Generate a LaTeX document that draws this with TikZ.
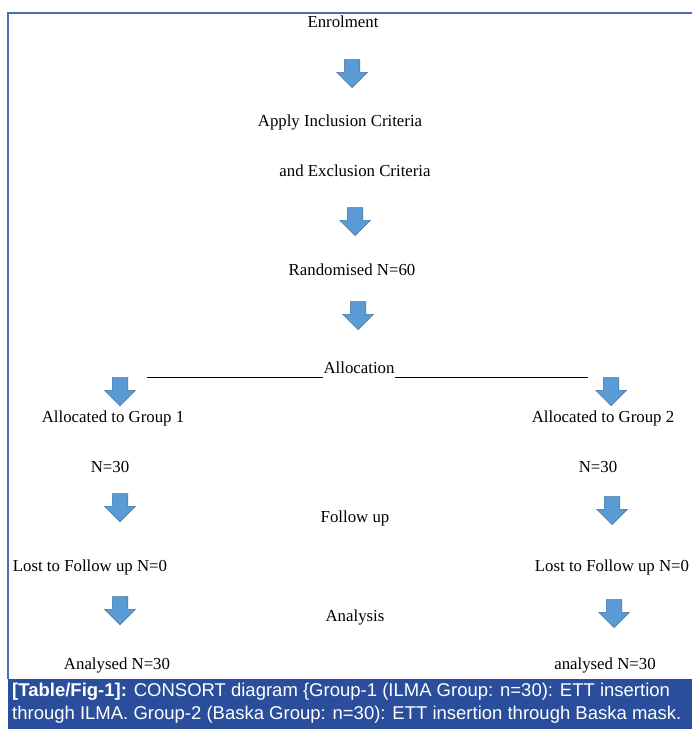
\documentclass[tikz,border=0pt]{standalone}
\usepackage{fontspec}
\setmainfont{Liberation Serif}
\newfontfamily\capfont{Liberation Sans}
\usetikzlibrary{shapes.arrows}
\definecolor{arrowfill}{RGB}{91,155,213}
\definecolor{arrowline}{RGB}{65,113,157}
\definecolor{framecol}{RGB}{72,108,182}
\definecolor{capband}{RGB}{42,78,155}

\begin{document}
\begin{tikzpicture}[x = 1bp, y = -1bp,
                    txt/.style = {inner sep=0pt, font=\fontsize{16.8bp}{20bp}\selectfont},
                    downarrow/.style = {single arrow, rotate=-90, anchor=tip,
                        fill=arrowfill, draw=arrowline, line width=0.5bp,
                        inner xsep=0pt, inner ysep=7.5bp, minimum height=28bp,
                        single arrow head extend=7.5bp}]
\useasboundingbox (0,0) rectangle (692,729);

% frame and caption band
\draw [framecol, line width=2bp] (8,679) -- (8,13) -- (692,13);
\fill [capband] (8,679) rectangle (692,729);

% centre column
\node[txt] (enrol) at (343,22) {Enrolment};
\node[downarrow] (arr1) at (352,88) {};
\node[txt] (incl) at (340,122) {Apply Inclusion Criteria};
\node[txt] (excl) at (355,171) {and Exclusion Criteria};
\node[downarrow] (arr2) at (355,236) {};
\node[txt] (rand) at (352,270) {Randomised N=60};
\node[downarrow] (arr3) at (358,330) {};

% allocation line
\node[txt] (alloc) at (359,368) {Allocation};
\coordinate (ulL) at (147,377);
\coordinate (ulR) at (588,377);
\draw [line width=0.8bp] (ulL) -- (ulL -| alloc.west);
\draw [line width=0.8bp] (ulR) -- (ulR -| alloc.east);

\node[txt] (fup) at (355,518) {Follow up};
\node[txt] (anal) at (355,617) {Analysis};

% group 1
\node[downarrow] (arrA1) at (120,406) {};
\node[txt] (grpA) at (113,418) {Allocated to Group 1};
\node[txt] (nA) at (110,467) {N=30};
\node[downarrow] (arrA2) at (120,522) {};
\node[txt] (lostA) at (90,567) {Lost to Follow up N=0};
\node[downarrow] (arrA3) at (120,625) {};
\node[txt] (doneA) at (117,665) {Analysed N=30};

% group 2
\node[downarrow] (arrB1) at (611,406) {};
\node[txt] (grpB) at (603,418) {Allocated to Group 2};
\node[txt] (nB) at (598,467) {N=30};
\node[downarrow] (arrB2) at (612,525) {};
\node[txt] (lostB) at (612,567) {Lost to Follow up N=0};
\node[downarrow] (arrB3) at (614,628) {};
\node[txt] (doneB) at (605,665) {analysed N=30};

% caption
\node[anchor=west, inner sep=0pt, text=white, align=left,
      font=\capfont\fontsize{18.5bp}{23bp}\selectfont] (cap) at (12,703.5)
  {\textbf{[Table/Fig-1]:} CONSORT diagram \{Group-1 (ILMA Group: n=30): ETT insertion\\
   through ILMA. Group-2 (Baska Group: n=30): ETT insertion through Baska mask.};
\end{tikzpicture}
\end{document}
